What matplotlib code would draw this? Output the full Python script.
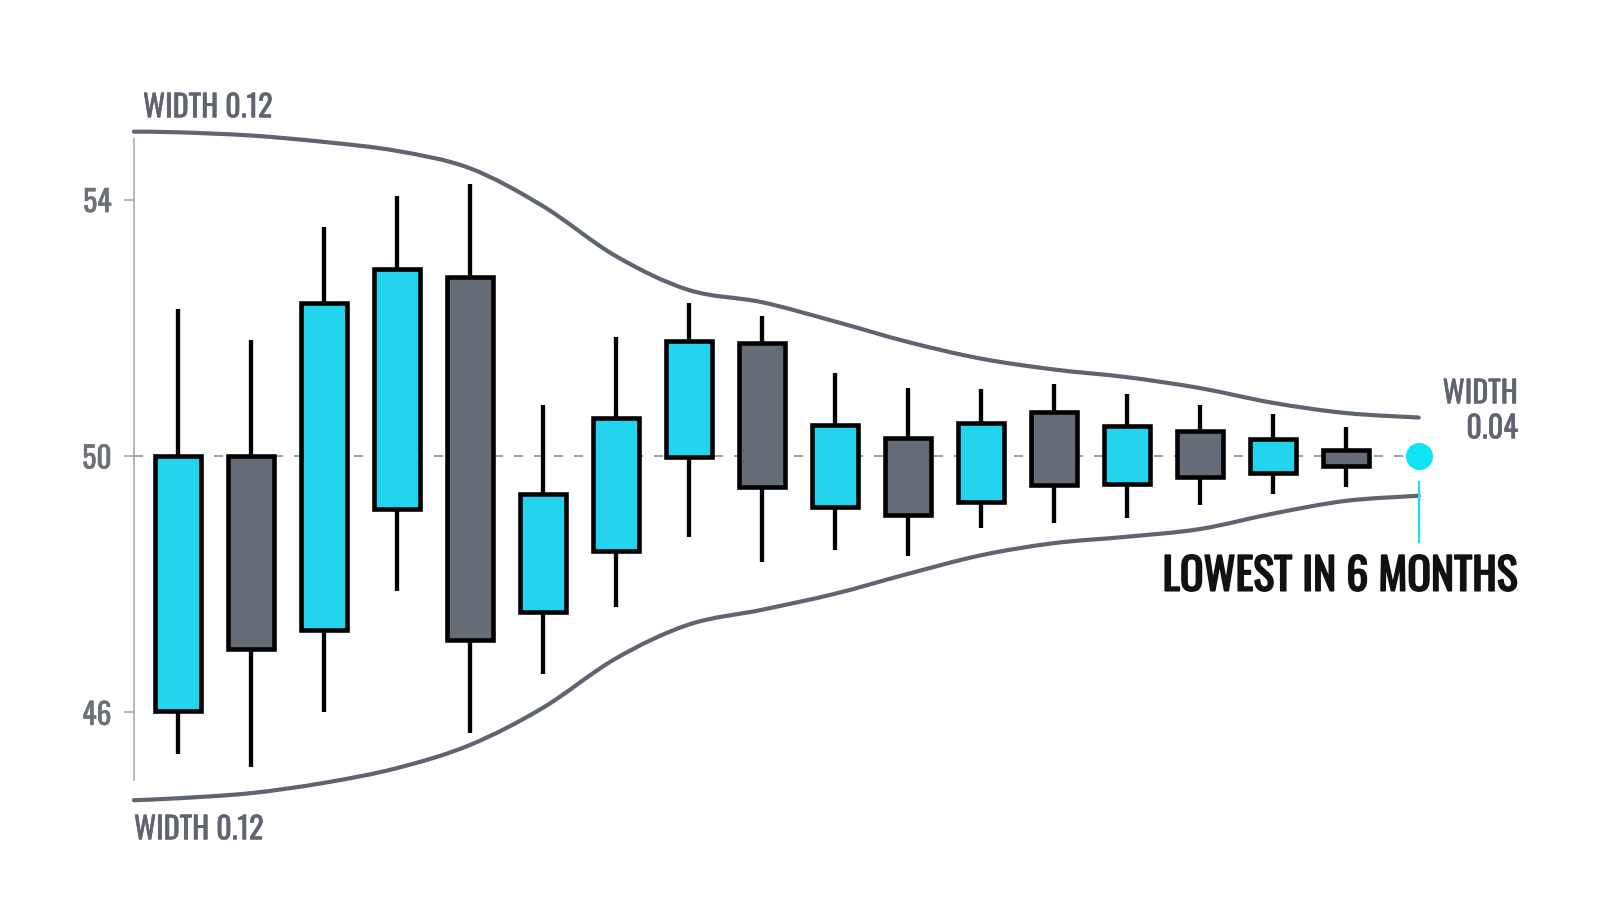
import numpy as np
import matplotlib
matplotlib.use("Agg")
import matplotlib.pyplot as plt
from matplotlib.path import Path
from matplotlib.patches import PathPatch, Rectangle
from matplotlib.text import Text
import matplotlib.patheffects as pe

# ---------------- data ----------------
opens  = [46.02, 50.00, 47.28, 49.17, 52.80, 47.56, 48.52, 49.98, 51.77, 49.21,
          50.28, 49.29, 50.69, 49.57, 50.39, 49.73, 50.10]
closes = [50.00, 46.99, 52.39, 52.91, 47.13, 49.40, 50.60, 51.80, 49.52, 50.48,
          49.08, 50.52, 49.54, 50.47, 49.67, 50.27, 49.85]
highs  = [52.30, 51.81, 53.58, 54.06, 54.25, 50.80, 51.86, 52.38, 52.18, 51.30,
          51.06, 51.05, 51.12, 50.97, 50.80, 50.66, 50.46]
lows   = [45.35, 45.15, 46.00, 47.90, 45.68, 46.60, 47.64, 48.73, 48.34, 48.53,
          48.44, 48.88, 48.96, 49.03, 49.23, 49.40, 49.51]

band_x     = [-0.6, 0, 1, 2, 3, 4, 5, 6, 7, 8, 9, 10, 11, 12, 13, 14, 15, 16, 17]
band_upper = [55.06, 55.05, 55.00, 54.90, 54.76, 54.49, 53.90, 53.12, 52.59, 52.40,
              52.10, 51.78, 51.52, 51.35, 51.23, 51.06, 50.83, 50.67, 50.60]
band_lower = [44.63, 44.66, 44.74, 44.90, 45.13, 45.49, 46.07, 46.84, 47.37, 47.60,
              47.85, 48.16, 48.45, 48.64, 48.74, 48.86, 49.10, 49.30, 49.38]

last_point = (17, 50.0)
mid_level = 50.0
yticks = [46, 50, 54]
ytick_labels = ["46", "50", "54"]

label_top = "WIDTH 0.12"
label_bottom = "WIDTH 0.12"
label_right_1 = "WIDTH"
label_right_2 = "0.04"
callout = "LOWEST IN 6 MONTHS"

# ---------------- style ----------------
CYAN = "#22D3EE"
GRAY_BODY = "#656C76"
BAND = "#5F6570"
DOT = "#10E4F4"
TXT_GRAY = "#5E6470"
TICK_TXT = "#6B7079"
FONT = ["Oswald", "DejaVu Sans"]

W, H = 1600, 914
fig = plt.figure(figsize=(16, 9.14), dpi=100)
fig.patch.set_facecolor("white")
renderer = fig.canvas.get_renderer()


def size_for_width(s, target_px, family, weight="normal"):
    t = Text(0, 0, s, fontsize=100, family=family, fontweight=weight)
    t.set_figure(fig)
    w = t.get_window_extent(renderer).width
    return 100.0 * target_px / w


ax = fig.add_axes([133.9 / W, 1 - 779.7 / H, 1387 / W, 641 / H])
ax.set_xlim(-0.6, 18.4)
ax.set_ylim(44.95, 54.95)
ax.set_facecolor("none")

for s in ["top", "right", "bottom"]:
    ax.spines[s].set_visible(False)
ax.spines["left"].set_color("#A0A4AA")
ax.spines["left"].set_linewidth(1.1)
ax.xaxis.set_visible(False)
ax.set_yticks(yticks)
ax.set_yticklabels(ytick_labels)
tick_fs = size_for_width("54", 28.5, FONT)
ax.tick_params(axis="y", direction="out", length=7.2, width=1.1, color="#A0A4AA",
               pad=8.8, labelsize=tick_fs, labelcolor=TICK_TXT)
for t in ax.get_yticklabels():
    t.set_family(FONT)
    t.set_path_effects([pe.withStroke(linewidth=0.35, foreground=TICK_TXT)])

# mid dashed line
ax.plot([-0.6, last_point[0]], [mid_level, mid_level], color="#8C9096", lw=1.2,
        linestyle=(0, (5.5, 6.5)), zorder=1)

# candles
body_w = 0.63
for i, (o, c, h, l) in enumerate(zip(opens, closes, highs, lows)):
    col = CYAN if c >= o else GRAY_BODY
    ax.plot([i, i], [l, h], color="black", lw=3.1, solid_capstyle="butt", zorder=2)
    ax.add_patch(Rectangle((i - body_w / 2, min(o, c)), body_w, abs(c - o),
                           facecolor=col, edgecolor="black", lw=3.3, zorder=3,
                           joinstyle="miter"))


def smooth_path(xs, ys):
    pts = np.column_stack([xs, ys]).astype(float)
    n = len(pts)
    verts = [pts[0]]
    codes = [Path.MOVETO]
    for i in range(n - 1):
        p0 = pts[i - 1] if i > 0 else pts[i]
        p1 = pts[i]
        p2 = pts[i + 1]
        p3 = pts[i + 2] if i + 2 < n else pts[i + 1]
        c1 = p1 + (p2 - p0) / 6.0
        c2 = p2 - (p3 - p1) / 6.0
        verts += [c1, c2, p2]
        codes += [Path.CURVE4] * 3
    return Path(verts, codes)


for ys in (band_upper, band_lower):
    ax.add_patch(PathPatch(smooth_path(band_x, ys), facecolor="none", edgecolor=BAND,
                           lw=3.0, capstyle="round", clip_on=False, zorder=4))

# last point + callout line
ax.plot([last_point[0]], [last_point[1]], marker="o", markersize=19.5, color=DOT,
        markeredgewidth=0, zorder=5, clip_on=False)
ax.plot([last_point[0], last_point[0]], [49.59, 48.66], color=DOT, lw=1.5, zorder=5)

# texts
gray_fx = [pe.withStroke(linewidth=0.4, foreground=TXT_GRAY)]
lab_fs = size_for_width(label_top, 129.5, FONT)
fig.text(143 / W, 1 - 117.3 / H, label_top, ha="left", va="baseline", fontsize=lab_fs,
         color=TXT_GRAY, family=FONT, path_effects=gray_fx)
fig.text(134 / W, 1 - 839.3 / H, label_bottom, ha="left", va="baseline", fontsize=lab_fs,
         color=TXT_GRAY, family=FONT, path_effects=gray_fx)
fig.text(1518 / W, 1 - 403.3 / H, label_right_1, ha="right", va="baseline", fontsize=lab_fs,
         color=TXT_GRAY, family=FONT, path_effects=gray_fx)
fig.text(1518 / W, 1 - 438.3 / H, label_right_2, ha="right", va="baseline", fontsize=lab_fs,
         color=TXT_GRAY, family=FONT, path_effects=gray_fx)
call_fs = size_for_width(callout, 355, FONT)
fig.text(1517 / W, 1 - 590.7 / H, callout, ha="right", va="baseline", fontsize=call_fs,
         color="#111111", family=FONT,
         path_effects=[pe.withStroke(linewidth=1.2, foreground="#111111")])

fig.savefig("out.png", dpi=100, facecolor="white")
